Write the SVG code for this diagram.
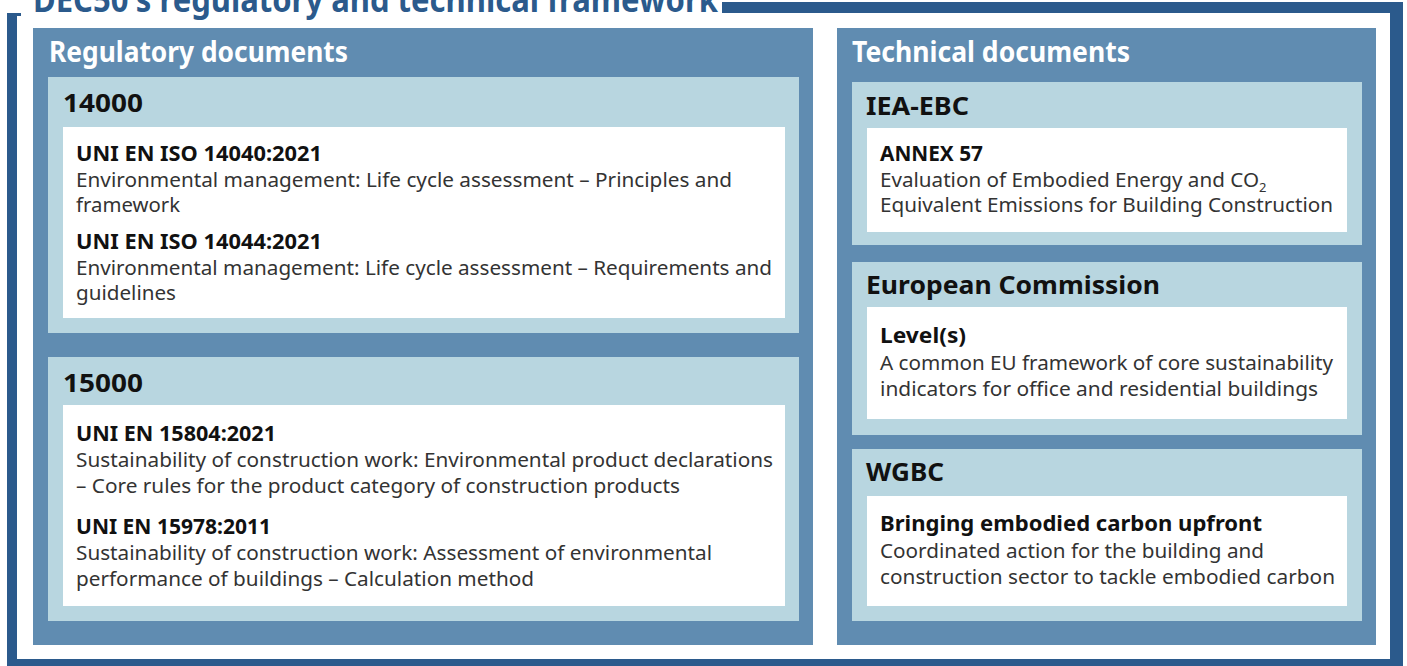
<svg xmlns="http://www.w3.org/2000/svg" width="1407" height="666" viewBox="0 0 1407 666">
<style>
.frame{fill:#2b5a8c}
.panel{fill:#608cb1}
.group{fill:#b8d6e0}
.card{fill:#ffffff}
.title{font-family:"Noto Sans","Liberation Sans",sans-serif;font-weight:700;font-size:34px;fill:#2b5a8c}
.ph{font-family:"Noto Sans","Liberation Sans",sans-serif;font-weight:700;font-size:28px;fill:#ffffff}
.gh{font-family:"Noto Sans","Liberation Sans",sans-serif;font-weight:700;font-size:25px;fill:#111111}
.ch{font-family:"Noto Sans","Liberation Sans",sans-serif;font-weight:700;font-size:21px;fill:#111111}
.cb{font-family:"Noto Sans","Liberation Sans",sans-serif;font-weight:400;font-size:20px;fill:#333333}
</style>
<g id="frame">
<rect class="frame" x="7" y="2" width="1396" height="664"/>
<rect fill="#ffffff" x="17" y="13" width="1373" height="646"/>
<rect fill="#ffffff" x="0" y="0" width="722" height="13"/>
<rect class="frame" x="7" y="13" width="14" height="3"/>
<text class="title" x="33" y="12" textLength="685" lengthAdjust="spacingAndGlyphs">DEC50's regulatory and technical framework</text>
</g>
<g id="regulatory">
<rect class="panel" x="33" y="28" width="780" height="617"/>
<text class="ph" x="49" y="62" textLength="299" lengthAdjust="spacingAndGlyphs">Regulatory documents</text>
</g>
<g id="g14000">
<rect class="group" x="48" y="77" width="751" height="256"/>
<text class="gh" x="63" y="112" textLength="80" lengthAdjust="spacingAndGlyphs">14000</text>
<rect class="card" x="63" y="127" width="722" height="191"/>
<text class="ch" x="76" y="161" textLength="246" lengthAdjust="spacingAndGlyphs">UNI EN ISO 14040:2021</text>
<text class="cb" x="76" y="187" textLength="656" lengthAdjust="spacingAndGlyphs">Environmental management: Life cycle assessment – Principles and</text>
<text class="cb" x="76" y="212" textLength="104" lengthAdjust="spacingAndGlyphs">framework</text>
<text class="ch" x="76" y="249" textLength="246" lengthAdjust="spacingAndGlyphs">UNI EN ISO 14044:2021</text>
<text class="cb" x="76" y="275" textLength="696" lengthAdjust="spacingAndGlyphs">Environmental management: Life cycle assessment – Requirements and</text>
<text class="cb" x="76" y="300" textLength="100" lengthAdjust="spacingAndGlyphs">guidelines</text>
</g>
<g id="g15000">
<rect class="group" x="48" y="357" width="751" height="264"/>
<text class="gh" x="63" y="392" textLength="80" lengthAdjust="spacingAndGlyphs">15000</text>
<rect class="card" x="63" y="405" width="722" height="201"/>
<text class="ch" x="76" y="441" textLength="200" lengthAdjust="spacingAndGlyphs">UNI EN 15804:2021</text>
<text class="cb" x="76" y="467" textLength="697" lengthAdjust="spacingAndGlyphs">Sustainability of construction work: Environmental product declarations</text>
<text class="cb" x="76" y="493" textLength="604" lengthAdjust="spacingAndGlyphs">– Core rules for the product category of construction products</text>
<text class="ch" x="76" y="534" textLength="195" lengthAdjust="spacingAndGlyphs">UNI EN 15978:2011</text>
<text class="cb" x="76" y="560" textLength="636" lengthAdjust="spacingAndGlyphs">Sustainability of construction work: Assessment of environmental</text>
<text class="cb" x="76" y="586" textLength="458" lengthAdjust="spacingAndGlyphs">performance of buildings – Calculation method</text>
</g>
<g id="technical">
<rect class="panel" x="837" y="28" width="539" height="617"/>
<text class="ph" x="852" y="62" textLength="278" lengthAdjust="spacingAndGlyphs">Technical documents</text>
</g>
<g id="ieaebc">
<rect class="group" x="852" y="82" width="510" height="163"/>
<text class="gh" x="866" y="115" textLength="103" lengthAdjust="spacingAndGlyphs">IEA-EBC</text>
<rect class="card" x="867" y="128" width="480" height="104"/>
<text class="ch" x="880" y="161" textLength="103" lengthAdjust="spacingAndGlyphs">ANNEX 57</text>
<text class="cb" x="880" y="187"><tspan textLength="379" lengthAdjust="spacingAndGlyphs">Evaluation of Embodied Energy and CO</tspan><tspan font-size="13" dy="5">2</tspan></text>
<text class="cb" x="880" y="212" textLength="453" lengthAdjust="spacingAndGlyphs">Equivalent Emissions for Building Construction</text>
</g>
<g id="ec">
<rect class="group" x="852" y="262" width="510" height="173"/>
<text class="gh" x="866" y="294" textLength="294" lengthAdjust="spacingAndGlyphs">European Commission</text>
<rect class="card" x="867" y="307" width="480" height="112"/>
<text class="ch" x="880" y="343" textLength="86" lengthAdjust="spacingAndGlyphs">Level(s)</text>
<text class="cb" x="880" y="370" textLength="453" lengthAdjust="spacingAndGlyphs">A common EU framework of core sustainability</text>
<text class="cb" x="880" y="396" textLength="438" lengthAdjust="spacingAndGlyphs">indicators for office and residential buildings</text>
</g>
<g id="wgbc">
<rect class="group" x="852" y="449" width="510" height="172"/>
<text class="gh" x="866" y="481" textLength="78" lengthAdjust="spacingAndGlyphs">WGBC</text>
<rect class="card" x="867" y="496" width="480" height="110"/>
<text class="ch" x="880" y="531" textLength="382" lengthAdjust="spacingAndGlyphs">Bringing embodied carbon upfront</text>
<text class="cb" x="880" y="558" textLength="384" lengthAdjust="spacingAndGlyphs">Coordinated action for the building and</text>
<text class="cb" x="880" y="584" textLength="455" lengthAdjust="spacingAndGlyphs">construction sector to tackle embodied carbon</text>
</g>
<g id="connectors"></g>
</svg>
